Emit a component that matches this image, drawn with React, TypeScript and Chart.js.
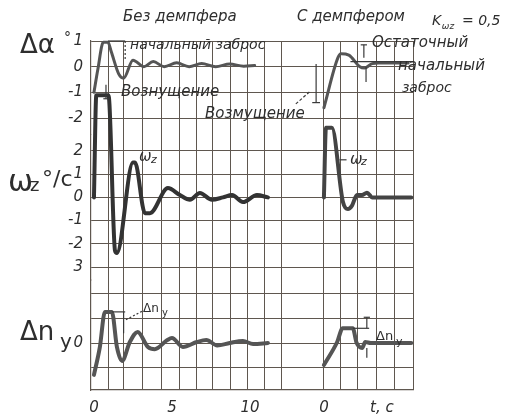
import React, { useEffect, useRef } from 'react';
import { Chart, registerables } from 'chart.js';

Chart.register(...registerables);

// shared time axis (s); the "С демпфером" panel starts at RIGHT_START
const RIGHT_START = 14.74;
const X_MIN = -0.19;
const X_MAX = 20.45;

const gridTimes = [0.9, 1.92, 3.14, 4.36, 5.51, 6.6, 7.63, 8.72, 9.81, 10.9, 11.99, 14.74, 15.83, 16.92, 18.14, 19.29, 20.45];
const xTickValues = [0, 5, 10, 14.74, 18.46];
const xTickLabels = ['0', '5', '10', '0', 't, c'];

const alphaTicks = [1, 0, -1, -2];
const alphaTickLabels = ['1', '0', '-1', '-2'];
const omegaTicks = [2, 1, 0, -1, -2, -3];
const omegaTickLabels = ['2', '1', '0', '-1', '-2', '3'];
const nyTicks = [2, 1, 0, -1];
const nyTickLabels = ['', '', '0', ''];

// Без демпфера
const alphaFreeT = [0, 0.25, 0.6, 0.9, 1.1, 1.6, 1.9, 2.5, 3.2, 3.8, 4.5, 5.3, 6.1, 6.9, 7.8, 8.7, 9.6, 10.3];
const alphaFreeV = [-1, -0.1, 0.95, 0.95, 0.6, -0.3, -0.45, 0.25, 0, 0.2, 0, 0.15, 0, 0.12, 0, 0.1, 0.02, 0.05];
const omegaFreeT = [0, 0.15, 0.9, 0.96, 1.35, 1.47, 2.5, 2.63, 3.27, 3.59, 4.74, 5.51, 6.15, 6.79, 7.56, 8.27, 8.85, 9.55, 10.45, 11.15];
const omegaFreeV = [0, 4.4, 4.4, 4.3, -2.3, -2.4, 1.5, 1.5, -0.68, -0.68, 0.4, 0.1, -0.1, 0.19, -0.1, 0, 0.1, -0.2, 0.1, 0];
const nyFreeT = [0, 0.38, 0.7, 1.15, 1.47, 1.8, 2.3, 2.8, 3.46, 3.9, 4.7, 5.0, 5.7, 6.6, 7.2, 7.9, 8.7, 9.55, 10.2, 11.15];
const nyFreeV = [-1.3, -0.16, 1.27, 1.27, -0.16, -0.73, 0.04, 0.45, -0.16, -0.25, 0.12, 0.2, -0.16, 0.04, 0.12, -0.1, 0, 0.08, -0.04, 0];

// С демпфером (local time)
const alphaDampT = [0, 0.9, 1.1, 1.6, 2.3, 2.6, 3.1, 3.5, 5.4];
const alphaDampV = [-1.6, 0.35, 0.5, 0.45, 0, -0.05, 0.12, 0.14, 0.14];
const omegaDampT = [0, 0.13, 0.51, 1.22, 1.54, 1.8, 2.12, 2.44, 2.76, 3.1, 5.6];
const omegaDampV = [0, 3.0, 3.0, -0.2, -0.5, -0.35, 0.1, 0.1, 0.2, 0, 0];
const nyDampT = [0, 0.85, 1.2, 1.85, 2.1, 2.45, 2.65, 3.0, 5.6];
const nyDampV = [-0.9, 0.04, 0.6, 0.6, 0, -0.2, 0.04, 0, 0];

const GRID = '#5f574f';
const INK = '#2e2e2e';
const FAMILY = '"DejaVu Sans", sans-serif';
const tickFont = { family: FAMILY, size: 15, style: 'italic' as const };

type Txt = { s: string; t: number; axis: string; v: number; size: number; italic?: boolean; align?: CanvasTextAlign };
const R = RIGHT_START;
const texts: Txt[] = [
  { s: 'Без демпфера', t: 5.51, axis: 'yA', v: 1.935, size: 15, italic: true, align: 'center' },
  { s: 'С демпфером', t: 16.47, axis: 'yA', v: 1.935, size: 15, italic: true, align: 'center' },
  { s: 'K', t: 21.67, axis: 'yA', v: 1.78, size: 14, italic: true },
  { s: 'ωz', t: 22.3, axis: 'yA', v: 1.545, size: 9, italic: true },
  { s: '= 0,5', t: 23.59, axis: 'yA', v: 1.78, size: 14, italic: true },
  { s: 'начальный заброс', t: 2.31, axis: 'yA', v: 0.844, size: 14, italic: true },
  { s: 'Вознущение', t: 1.73, axis: 'yA', v: -0.99, size: 15, italic: true },
  { s: 'Возмущение', t: 7.12, axis: 'yA', v: -1.84, size: 15, italic: true },
  { s: 'Остаточный', t: 17.82, axis: 'yA', v: 0.92, size: 15, italic: true },
  { s: 'начальный', t: 19.49, axis: 'yA', v: 0.03, size: 15, italic: true },
  { s: 'заброс', t: 19.74, axis: 'yA', v: -0.83, size: 14, italic: true },
  { s: 'ω', t: 2.88, axis: 'yW', v: 1.74, size: 15, italic: true },
  { s: 'z', t: 3.65, axis: 'yW', v: 1.6, size: 11, italic: true },
  { s: 'ω', t: 16.41, axis: 'yW', v: 1.62, size: 15, italic: true },
  { s: 'z', t: 17.12, axis: 'yW', v: 1.5, size: 11, italic: true },
  { s: 'Δn', t: 3.14, axis: 'yN', v: 1.39, size: 12 },
  { s: 'y', t: 4.36, axis: 'yN', v: 1.2, size: 10 },
  { s: 'Δn', t: 18.08, axis: 'yN', v: 0.245, size: 13 },
  { s: 'y', t: 19.36, axis: 'yN', v: 0.05, size: 11 },
  { s: 'Δα', t: -4.74, axis: 'yA', v: 0.805, size: 26 },
  { s: '°', t: -1.92, axis: 'yA', v: 1.12, size: 14 },
  { s: 'ω', t: -5.51, axis: 'yW', v: 0.62, size: 30 },
  { s: 'z', t: -4.1, axis: 'yW', v: 0.49, size: 18 },
  { s: '°/с', t: -3.33, axis: 'yW', v: 0.75, size: 22 },
  { s: 'Δn', t: -4.74, axis: 'yN', v: 0.41, size: 26 },
  { s: 'y', t: -2.18, axis: 'yN', v: 0.0, size: 20 },
];

type Seg = { axis: string; pts: [number, number][]; dash?: number[] };
const segs: Seg[] = [
  { axis: 'yA', pts: [[0.9, 1], [2.0, 1]] },
  { axis: 'yA', pts: [[2.0, 1], [2.0, 0.25]], dash: [2, 2] },
  { axis: 'yA', pts: [[0.77, -0.7], [0.77, -1.25]] },
  { axis: 'yA', pts: [[0.6, -1.25], [0.95, -1.25]] },
  { axis: 'yA', pts: [[R - 0.5, 0.1], [R - 0.5, -1.4]] },
  { axis: 'yA', pts: [[R - 0.75, -1.4], [R - 0.25, -1.4]] },
  { axis: 'yA', pts: [[R - 1.8, -1.45], [R - 0.9, -0.97]], dash: [3, 2] },
  { axis: 'yA', pts: [[R + 1.7, 0.2], [X_MAX, 0.2]] },
  { axis: 'yA', pts: [[R + 2.56, 0.85], [R + 2.56, 0.35]] },
  { axis: 'yA', pts: [[R + 2.36, 0.85], [R + 2.76, 0.85]] },
  { axis: 'yA', pts: [[R + 2.7, -0.6], [R + 2.7, 0.0]] },
  { axis: 'yN', pts: [[1.15, 1.27], [2.0, 1.27]] },
  { axis: 'yN', pts: [[1.9, 1.27], [1.9, 0.4]] },
  { axis: 'yN', pts: [[2.05, 0.95], [3.1, 1.3]], dash: [2, 2] },
  { axis: 'yN', pts: [[R + 1.85, 0.6], [R + 2.9, 0.6]] },
  { axis: 'yN', pts: [[R + 2.75, 1.05], [R + 2.75, 0.6]] },
  { axis: 'yN', pts: [[R + 2.55, 1.05], [R + 2.95, 1.05]] },
  { axis: 'yN', pts: [[R + 2.75, -0.6], [R + 2.75, -0.2]] },
  { axis: 'yW', pts: [[R + 1.0, 1.62], [R + 1.45, 1.62]] },
];

const annotate = {
  id: 'annotate',
  afterDatasetsDraw(chart: any) {
    const { ctx } = chart;
    const X = (t: number) => chart.scales.x.getPixelForValue(t);
    const Y = (a: string, v: number) => chart.scales[a].getPixelForValue(v);
    ctx.save();
    ctx.strokeStyle = '#3a3a3a';
    ctx.lineWidth = 1.2;
    for (const s of segs) {
      ctx.setLineDash(s.dash || []);
      ctx.beginPath();
      s.pts.forEach(([t, v], i) => (i ? ctx.lineTo(X(t), Y(s.axis, v)) : ctx.moveTo(X(t), Y(s.axis, v))));
      ctx.stroke();
    }
    ctx.setLineDash([]);
    ctx.fillStyle = INK;
    ctx.textBaseline = 'middle';
    for (const l of texts) {
      ctx.font = `${l.italic ? 'italic ' : ''}${l.size}px ${FAMILY}`;
      ctx.textAlign = l.align || 'left';
      ctx.fillText(l.s, X(l.t), Y(l.axis, l.v));
    }
    ctx.restore();
  },
};

function yAxis(min: number, max: number, ticks: number[], labels: string[], weight: number) {
  return {
    type: 'linear' as const,
    position: 'left' as const,
    stack: 'panels',
    stackWeight: weight,
    min,
    max,
    afterBuildTicks: (s: any) => {
      s.ticks = ticks.map((v) => ({ value: v }));
    },
    afterFit: (s: any) => {
      s.width = 91;
    },
    ticks: {
      autoSkip: false,
      font: tickFont,
      color: INK,
      padding: 8,
      callback: (v: any) => {
        const i = ticks.indexOf(v);
        return i >= 0 ? labels[i] : '';
      },
    },
    grid: { color: GRID, lineWidth: 1, drawTicks: false },
    border: { display: true, color: GRID, width: 1.2 },
  };
}

function line(T: number[], V: number[], offset: number, axis: string, width: number, color: string) {
  return {
    data: T.map((t, i) => ({ x: t + offset, y: V[i] })),
    xAxisID: 'x',
    yAxisID: axis,
    borderColor: color,
    borderWidth: width,
    pointRadius: 0,
    fill: false,
    clip: false,
    cubicInterpolationMode: 'monotone' as const,
    borderCapStyle: 'round' as const,
    borderJoinStyle: 'round' as const,
  };
}

export default function App() {
  const ref = useRef<HTMLCanvasElement | null>(null);
  useEffect(() => {
    if (!ref.current) return;
    const allX = Array.from(new Set([...gridTimes, ...xTickValues])).sort((a, b) => a - b);
    const chart = new Chart(ref.current, {
      type: 'line',
      data: {
        datasets: [
          line(alphaFreeT, alphaFreeV, 0, 'yA', 3, '#555'),
          line(omegaFreeT, omegaFreeV, 0, 'yW', 4, '#333'),
          line(nyFreeT, nyFreeV, 0, 'yN', 4, '#555'),
          line(alphaDampT, alphaDampV, RIGHT_START, 'yA', 3, '#555'),
          line(omegaDampT, omegaDampV, RIGHT_START, 'yW', 4, '#444'),
          line(nyDampT, nyDampV, RIGHT_START, 'yN', 4, '#555'),
        ] as any,
      },
      options: {
        animation: false,
        responsive: true,
        maintainAspectRatio: false,
        layout: { padding: { top: 41, right: 109, bottom: 0, left: 0 } },
        plugins: { legend: { display: false }, tooltip: { enabled: false } },
        scales: {
          x: {
            type: 'linear',
            min: X_MIN,
            max: X_MAX,
            afterBuildTicks: (s: any) => {
              s.ticks = allX.map((v) => ({ value: v }));
            },
            afterFit: (s: any) => {
              s.height = 27;
            },
            ticks: {
              autoSkip: false,
              maxRotation: 0,
              font: tickFont,
              color: INK,
              padding: 9,
              callback: (v: any) => {
                const i = xTickValues.indexOf(v);
                return i >= 0 ? xTickLabels[i] : '';
              },
            },
            grid: {
              color: (c: any) => (c.tick && gridTimes.includes(c.tick.value) ? GRID : 'rgba(0,0,0,0)'),
              lineWidth: 1,
              drawTicks: false,
            },
            border: { display: true, color: GRID, width: 1.2 },
          },
          yN: yAxis(-1.918, 2.571, nyTicks, nyTickLabels, 110),
          yW: yAxis(-3.56, 2.711, omegaTicks, omegaTickLabels, 145.5),
          yA: yAxis(-2.642, 1, alphaTicks, alphaTickLabels, 93.5),
        } as any,
      },
      plugins: [annotate],
    });
    return () => chart.destroy();
  }, []);
  return (
    <div style={{ position: 'fixed', left: 0, top: 0, width: 522, height: 417, background: '#fff' }}>
      <canvas ref={ref} />
    </div>
  );
}
